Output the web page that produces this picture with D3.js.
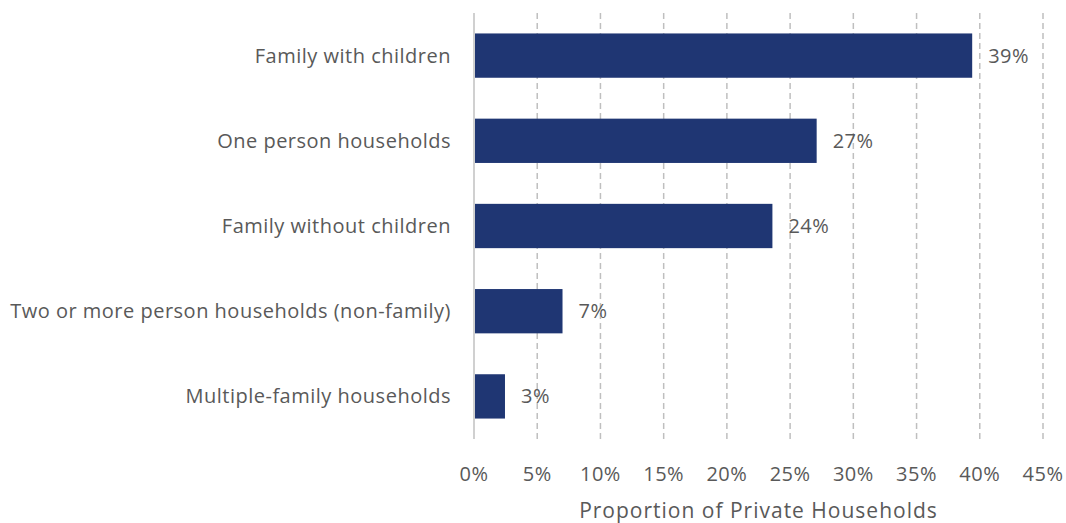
<!DOCTYPE html>
<meta charset="utf-8">
<style>
body { margin: 0; background: #fff; }
text { font-family: "Open Sans", sans-serif; fill: #595959; letter-spacing: 0.5px; }
.grid line { stroke: #bfbfbf; stroke-width: 1.5px; stroke-dasharray: 6,4; }
</style>
<body>
<script src="https://d3js.org/d3.v7.min.js"></script>
<script>

// chart data
var categories = ["Family with children", "One person households", "Family without children",
                  "Two or more person households (non-family)", "Multiple-family households"];
var values = [39.4, 27.1, 23.6, 7.0, 2.45];
var valueLabels = ["39%", "27%", "24%", "7%", "3%"];
var ticks = [0, 5, 10, 15, 20, 25, 30, 35, 40, 45];

var width = 1066, height = 523;
var margin = {top: 13, right: 23, bottom: 84, left: 474};

var svg = d3.select("body").append("svg")
    .attr("width", width)
    .attr("height", height);

var x = d3.scaleLinear().domain([0, 45]).range([margin.left, width - margin.right]);
var y = d3.scaleBand().domain(categories).range([margin.top, height - margin.bottom])
    .paddingInner(0.48).paddingOuter(0.24);

// dashed vertical gridlines
svg.append("g").attr("class", "grid")
  .selectAll("line")
  .data(ticks.slice(1))
  .enter().append("line")
    .attr("x1", d => x(d)).attr("x2", d => x(d))
    .attr("y1", margin.top).attr("y2", height - margin.bottom);

// bars
svg.selectAll(".bar")
  .data(values)
  .enter().append("rect")
    .attr("class", "bar")
    .attr("x", x(0))
    .attr("y", (d, i) => y(categories[i]))
    .attr("width", d => x(d) - x(0))
    .attr("height", y.bandwidth())
    .style("fill", "#1f3673");

// zero axis line
svg.append("line")
    .attr("x1", x(0)).attr("x2", x(0))
    .attr("y1", margin.top).attr("y2", height - margin.bottom)
    .style("stroke", "#d0d0d0").style("stroke-width", 2);

// value labels
svg.selectAll(".val")
  .data(values)
  .enter().append("text")
    .attr("x", d => x(d) + 16)
    .attr("y", (d, i) => y(categories[i]) + y.bandwidth() / 2)
    .attr("dy", "0.35em")
    .style("font-size", "20px")
    .text((d, i) => valueLabels[i]);

// category labels
svg.selectAll(".cat")
  .data(categories)
  .enter().append("text")
    .attr("x", x(0) - 23)
    .attr("y", d => y(d) + y.bandwidth() / 2)
    .attr("dy", "0.35em")
    .attr("text-anchor", "end")
    .style("font-size", "20px")
    .text(d => d);

// x tick labels
svg.selectAll(".tick-label")
  .data(ticks)
  .enter().append("text")
    .attr("x", d => x(d))
    .attr("y", 481)
    .attr("text-anchor", "middle")
    .style("font-size", "20px")
    .text(d => d + "%");

// x axis title
svg.append("text")
    .attr("x", (x(0) + x(45)) / 2)
    .attr("y", 518)
    .attr("text-anchor", "middle")
    .style("font-size", "21px")
    .style("letter-spacing", "1px")
    .text("Proportion of Private Households");

</script>
</body>
